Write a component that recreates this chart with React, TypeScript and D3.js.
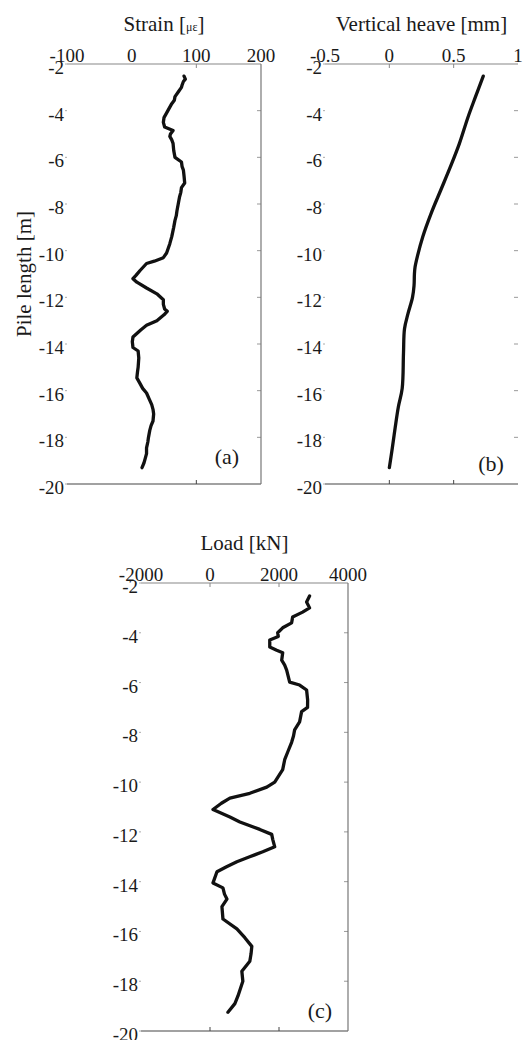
import React from "react";
import * as d3 from "d3";

const depthTicks = [-2, -4, -6, -8, -10, -12, -14, -16, -18, -20];

const strainTicks = [-100, 0, 100, 200];
const strainInner = [100];
const strainDepth = [-2.52, -2.65, -2.75, -2.9, -3.0, -3.2, -3.4, -3.55, -3.7, -3.85, -4.0, -4.15, -4.3, -4.5, -4.7, -4.85, -5.0, -5.1, -5.25, -5.4, -5.7, -6.0, -6.2, -6.4, -6.55, -6.8, -7.1, -7.3, -7.5, -7.7, -8.0, -8.3, -8.5, -8.7, -9.0, -9.4, -9.7, -10.1, -10.3, -10.45, -10.55, -10.7, -10.85, -11.05, -11.2, -11.35, -11.6, -11.85, -12.1, -12.3, -12.5, -12.6, -12.75, -13.0, -13.2, -13.4, -13.55, -13.7, -13.9, -14.15, -14.3, -14.6, -15.0, -15.2, -15.45, -15.7, -15.9, -16.1, -16.35, -16.6, -16.8, -17.0, -17.3, -17.5, -17.7, -18.0, -18.2, -18.45, -18.7, -18.9, -19.1, -19.3];
const strainValue = [81, 83, 80, 78, 77, 72, 67, 66, 62, 59, 56, 53, 50, 49, 51, 64, 60, 59, 62, 64, 65, 67, 77, 78, 80, 81, 82, 77, 76, 74, 72, 70, 69, 67, 65, 62, 59, 54, 49, 35, 23, 18, 13, 7, 2, 8, 23, 39, 49, 49, 51, 55, 50, 39, 23, 14, 8, 2, 1, 2, 10, 11, 10, 9, 8, 13, 17, 23, 27, 31, 33, 34, 33, 30, 28, 26, 25, 23, 23, 21, 19, 16];

const heaveTicks = [-0.5, 0, 0.5, 1];
const heaveTickLabels = ["-0.5", "0", "0.5", "1"];
const heaveInner = [0, 0.5];
const heaveDepth = [-2.52, -3.4, -4.3, -5.4, -6.4, -7.4, -8.4, -9.4, -10.2, -10.7, -11.0, -11.5, -12.0, -12.7, -13.35, -14.4, -15.9, -16.7, -17.6, -18.5, -19.3];
const heaveValue = [0.73, 0.67, 0.61, 0.545, 0.475, 0.40, 0.325, 0.26, 0.22, 0.2, 0.195, 0.192, 0.18, 0.145, 0.118, 0.11, 0.10, 0.07, 0.045, 0.022, 0.0];

const loadTicks = [-2000, 0, 2000, 4000];
const loadInner = [0, 2000];
const loadDepth = [-2.52, -2.76, -3.0, -3.17, -3.37, -3.6, -3.8, -4.0, -4.15, -4.29, -4.57, -4.7, -4.8, -5.1, -5.3, -5.5, -5.98, -6.1, -6.3, -6.7, -7.0, -7.17, -7.58, -7.9, -8.15, -8.4, -8.8, -9.1, -9.5, -10.0, -10.2, -10.45, -10.64, -10.85, -11.1, -11.4, -11.6, -11.9, -12.1, -12.3, -12.6, -12.8, -13.0, -13.2, -13.4, -13.6, -14.05, -14.25, -14.5, -14.7, -15.0, -15.5, -15.9, -16.25, -16.6, -16.9, -17.2, -17.6, -18.0, -18.3, -18.6, -18.9, -19.25];
const loadValue = [2886, 2800, 2886, 2684, 2395, 2366, 2107, 1962, 1980, 1732, 1732, 1933, 2107, 2078, 2165, 2222, 2309, 2597, 2800, 2830, 2828, 2655, 2597, 2453, 2420, 2366, 2250, 2165, 2107, 1876, 1645, 1154, 577, 330, 87, 577, 866, 1443, 1789, 1818, 1876, 1530, 1150, 779, 480, 202, 87, 375, 420, 491, 346, 375, 779, 1010, 1212, 1190, 1154, 923, 952, 880, 808, 721, 520];

const FONT = "'Liberation Serif', 'Times New Roman', serif";

type PanelProps = {
  left: number; right: number; top: number; bottom: number;
  domain: [number, number];
  ticks: number[]; tickLabels?: string[]; inner: number[];
  depth: number[]; values: number[];
  title: React.ReactNode; titleY: number;
  tag: string; tagX: number; tagY: number;
  curve: d3.CurveFactory;
  rightLine: boolean;
  id: string;
};

function Panel(p: PanelProps) {
  const x = d3.scaleLinear().domain(p.domain).range([p.left, p.right]);
  const y = d3.scaleLinear().domain([-2, -20]).range([p.top, p.bottom]);
  const pts: [number, number][] = p.depth.map((d, i) => [p.values[i], d]);
  const line = d3.line<[number, number]>().x(d => x(d[0])).y(d => y(d[1])).curve(p.curve);
  const fmt = (v: number, i: number) => (p.tickLabels ? p.tickLabels[i] : String(v));
  return (
    <g>
      <text x={(p.left + p.right) / 2} y={p.titleY} textAnchor="middle" fontFamily={FONT} fontSize={21} fill="#1a1a1a">{p.title}</text>
      {p.ticks.map((t, i) => (
        <text key={"tx" + i} x={x(t)} y={p.top - 2} textAnchor="middle" fontFamily={FONT} fontSize={19} fill="#1a1a1a">{fmt(t, i)}</text>
      ))}
      {depthTicks.map((t) => (
        <g key={"ty" + t}>
          <text x={p.left - 3} y={y(t) + 10} textAnchor="end" fontFamily={FONT} fontSize={19} fill="#1a1a1a">{t}</text>
          <line x1={p.left - 2} x2={p.left} y1={y(t)} y2={y(t)} stroke="#aaa" strokeWidth={1} />
          {t !== -2 && t !== -20 && (
            <line x1={p.right - 4} x2={p.right} y1={y(t)} y2={y(t)} stroke="#999" strokeWidth={1} />
          )}
        </g>
      ))}
      <line x1={p.left} x2={p.right} y1={p.top} y2={p.top} stroke="#888" strokeWidth={1.2} />
      <line x1={p.left} x2={p.right} y1={p.bottom} y2={p.bottom} stroke="#444" strokeWidth={1.2} />
      {p.rightLine && (
        <line x1={p.right} x2={p.right} y1={p.top} y2={p.bottom} stroke="#777" strokeWidth={1.2} />
      )}
      {p.inner.map((t) => (
        <g key={"in" + t}>
          <line x1={x(t)} x2={x(t)} y1={p.top} y2={p.top + 4} stroke="#888" strokeWidth={1} />
          <line x1={x(t)} x2={x(t)} y1={p.bottom} y2={p.bottom - 4} stroke="#444" strokeWidth={1} />
        </g>
      ))}
      <path d={line(pts) || ""} fill="none" stroke="#111" strokeWidth={3.3} strokeLinejoin="round" strokeLinecap="round" />
      <text x={p.tagX} y={p.tagY} textAnchor="middle" fontFamily={FONT} fontSize={22} fill="#1a1a1a">{p.tag}</text>
    </g>
  );
}

export default function App() {
  return (
    <svg width={523} height={1040} style={{ position: "absolute", left: 0, top: 0, background: "#fff" }}>
      <rect x={0} y={0} width={523} height={1040} fill="#fff" />
      <text transform="translate(31,274) rotate(-90)" textAnchor="middle" fontFamily={FONT} fontSize={21} fill="#1a1a1a">Pile length [m]</text>
      <Panel id="a" left={67} right={261} top={64} bottom={484} domain={[-100, 200]}
        ticks={strainTicks} inner={strainInner} depth={strainDepth} values={strainValue}
        title={<><tspan>Strain [</tspan><tspan fontSize={12}>με</tspan><tspan>]</tspan></>} titleY={31}
        tag="(a)" tagX={227} tagY={464} curve={d3.curveLinear} rightLine={true} />
      <Panel id="b" left={325} right={518} top={64} bottom={484} domain={[-0.5, 1]}
        ticks={heaveTicks} tickLabels={heaveTickLabels} inner={heaveInner} depth={heaveDepth} values={heaveValue}
        title="Vertical heave [mm]" titleY={31}
        tag="(b)" tagX={491} tagY={471} curve={d3.curveCatmullRom} rightLine={false} />
      <Panel id="c" left={141} right={348} top={583} bottom={1031} domain={[-2000, 4000]}
        ticks={loadTicks} inner={loadInner} depth={loadDepth} values={loadValue}
        title="Load [kN]" titleY={550}
        tag="(c)" tagX={320} tagY={1018} curve={d3.curveLinear} rightLine={true} />
    </svg>
  );
}
